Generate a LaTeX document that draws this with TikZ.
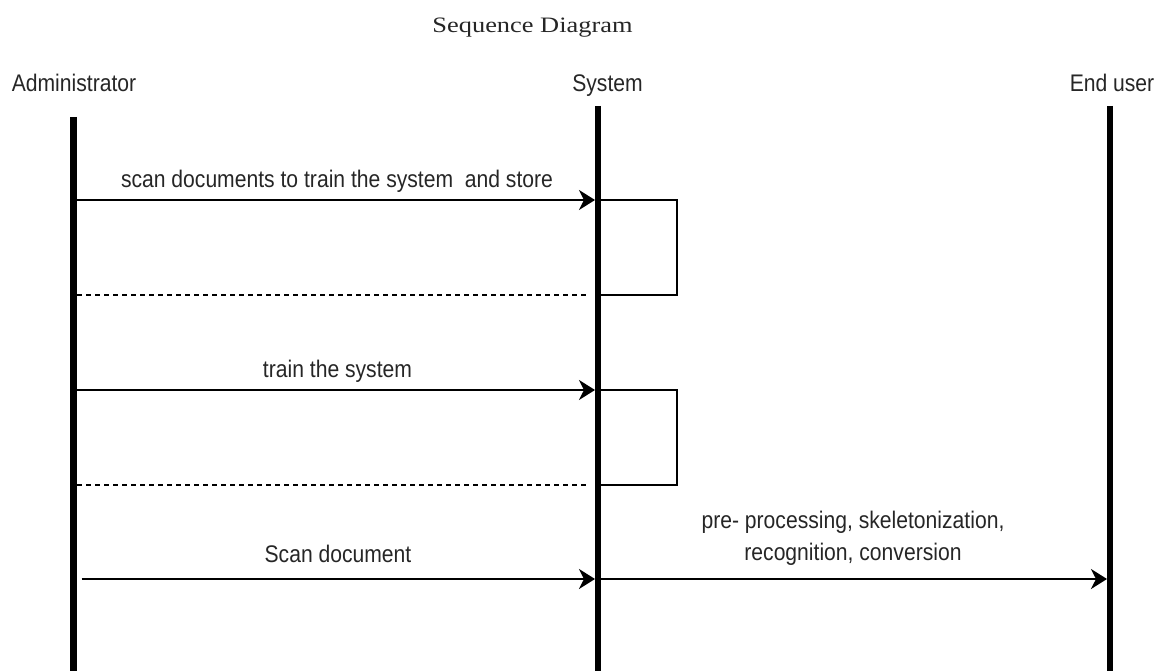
\documentclass[tikz,border=0pt]{standalone}
\usepackage{fontspec}
\setmainfont{Liberation Sans}
\newfontfamily\lsans[FakeStretch=0.88]{Liberation Sans}
\newfontfamily\lserif[FakeStretch=1.2]{Liberation Serif}
\usetikzlibrary{arrows.meta}
\begin{document}
\begin{tikzpicture}[x=1pt,y=-1pt,
  lbl/.style={font=\lsans\fontsize{24}{32}\selectfont, text=black!85, inner sep=0pt, anchor=base},
  ttl/.style={font=\lserif\fontsize{22}{26}\selectfont, text=black!85, inner sep=0pt, anchor=base},
  life/.style={line width=6.5pt},
  msg/.style={line width=2pt, -{Stealth[length=16pt,width=20pt,inset=5pt]}},
  ret/.style={line width=2pt, dash pattern=on 5pt off 4pt},
  selfbox/.style={line width=2pt}]
\useasboundingbox (0,0) rectangle (1166,671);

% title and headers
\node[ttl] (title) at (532.5,33) {Sequence Diagram};
\node[lbl] (admin) at (74,92) {Administrator};
\node[lbl] (sys) at (607.5,92) {System};
\node[lbl] (enduser) at (1112,92) {End user};

% lifelines
\coordinate (a0) at (73.5,117); \coordinate (a1) at (73.5,671);
\coordinate (s0) at (598,106);  \coordinate (s1) at (598,671);
\coordinate (e0) at (1110,106); \coordinate (e1) at (1110,671);
\draw[life] (a0) -- (a1);
\draw[life] (s0) -- (s1);
\draw[life] (e0) -- (e1);

% message 1
\coordinate (m1s) at (77,200); \coordinate (m1e) at (595,200);
\coordinate (b1t) at (601,200); \coordinate (b1c) at (677,295); \coordinate (b1b) at (601,295);
\coordinate (d1s) at (77,295); \coordinate (d1e) at (587,295);
\draw[msg] (m1s) -- (m1e);
\draw[selfbox] (b1t) -| (b1c) -- (b1b);
\draw[ret] (d1s) -- (d1e);
\node[lbl] (l1) at (337,188) {scan documents to train the system\ \ and store};

% message 2
\coordinate (m2s) at (77,390); \coordinate (m2e) at (595,390);
\coordinate (b2t) at (601,390); \coordinate (b2c) at (677,485); \coordinate (b2b) at (601,485);
\coordinate (d2s) at (77,485); \coordinate (d2e) at (587,485);
\draw[msg] (m2s) -- (m2e);
\draw[selfbox] (b2t) -| (b2c) -- (b2b);
\draw[ret] (d2s) -- (d2e);
\node[lbl] (l2) at (337.5,377) {train the system};

% message 3
\coordinate (m3s) at (81.7,579); \coordinate (m3e) at (595,579);
\coordinate (m4s) at (601,579); \coordinate (m4e) at (1107,579);
\draw[msg] (m3s) -- (m3e);
\draw[msg] (m4s) -- (m4e);
\node[lbl] (l3) at (338,562) {Scan document};
\node[lbl, align=center] (l4) at (853,560) {pre- processing, skeletonization,\\recognition, conversion};
\end{tikzpicture}
\end{document}
